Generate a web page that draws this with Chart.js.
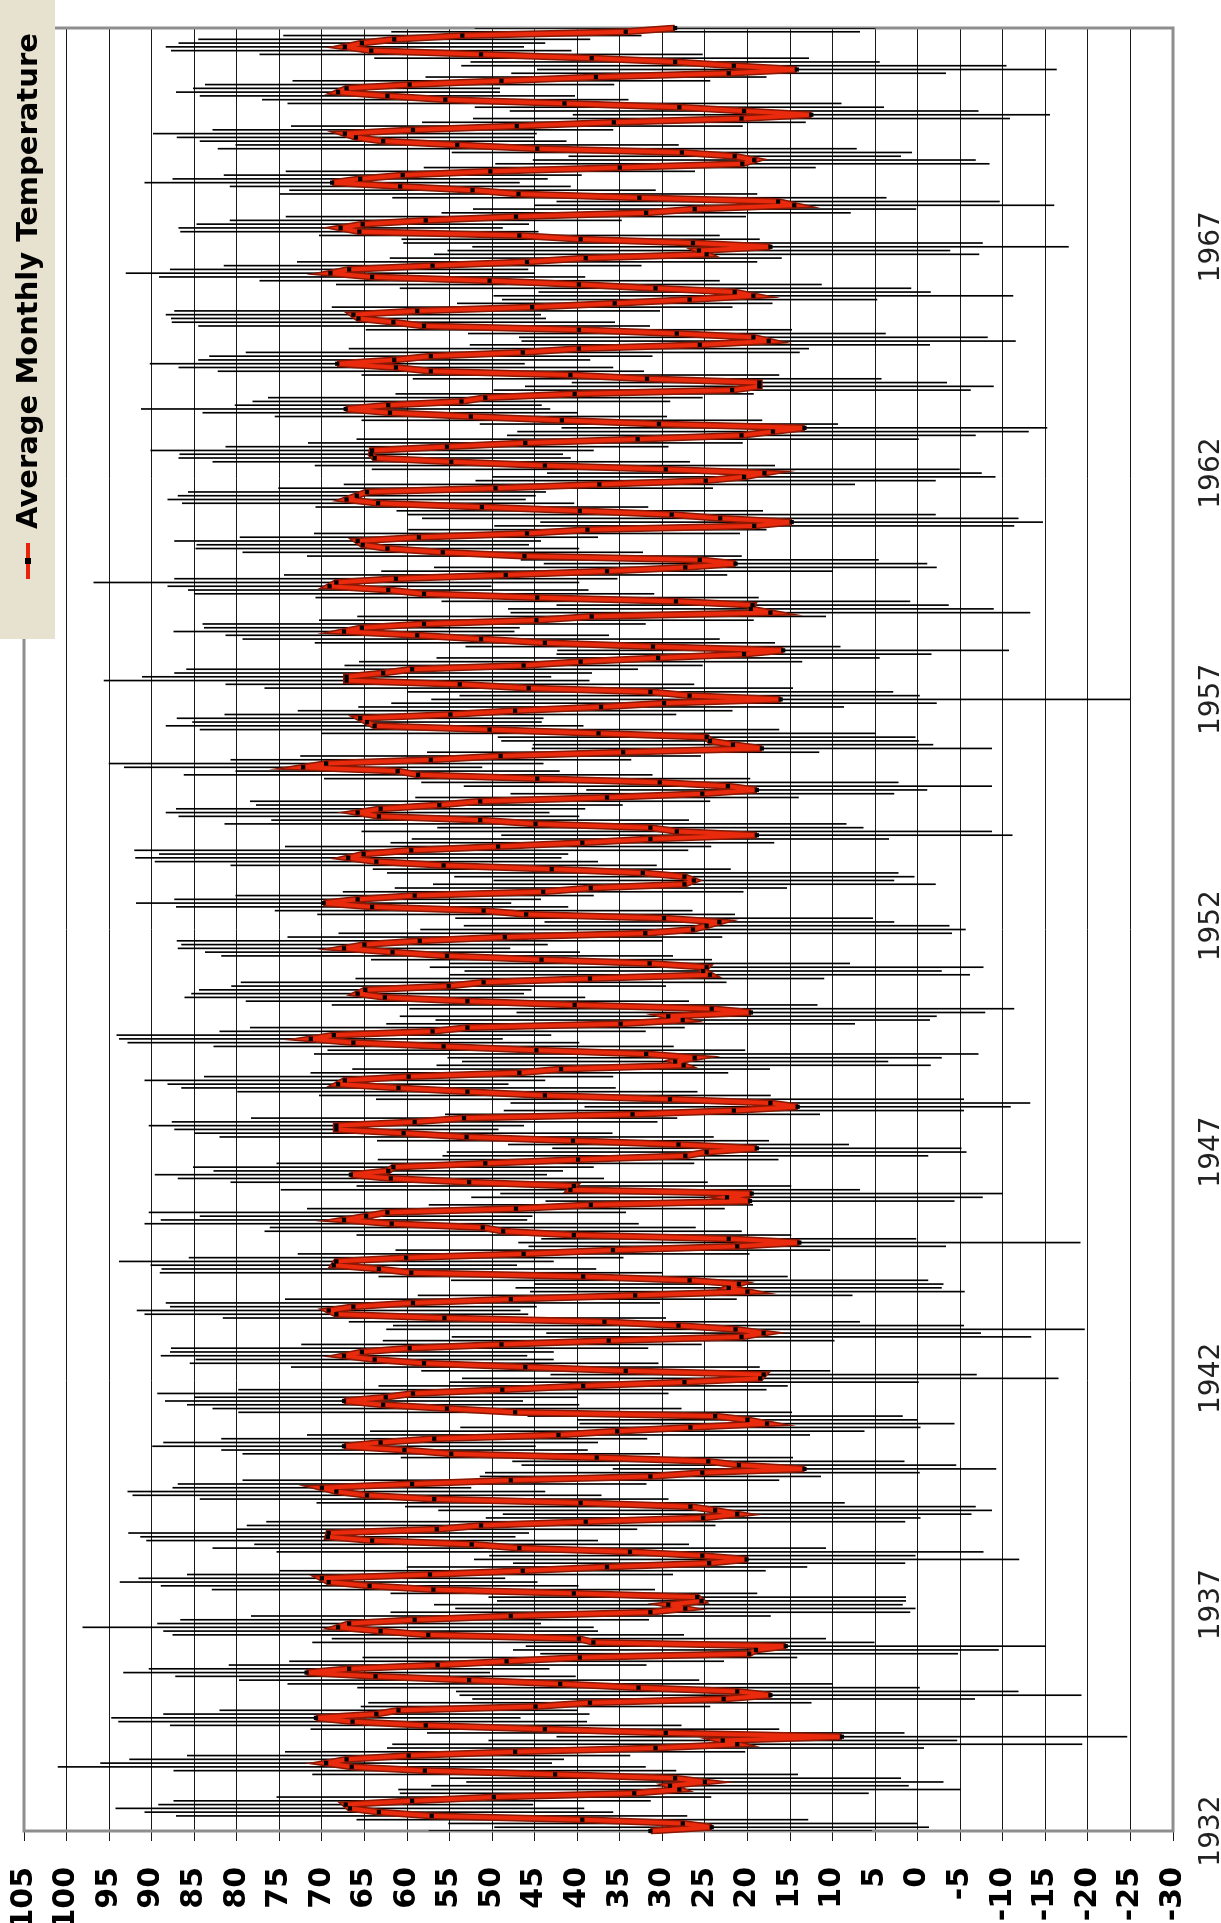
<!DOCTYPE html>
<html>
<head>
<meta charset="utf-8">
<script src="https://cdn.jsdelivr.net/npm/chart.js@4.4.1/dist/chart.umd.min.js"></script>
<style>
html,body{margin:0;padding:0;background:#fff;overflow:hidden;width:1221px;height:1923px;}
#wrap{position:absolute;left:0;top:0;width:1923px;height:1221px;transform-origin:0 0;transform:rotate(-90deg) translateX(-1923px);background:#fff;}
#c{position:absolute;left:0;top:0;}
#legend{position:absolute;left:1284px;top:0;width:639px;height:55px;background:#e6e2cf;font:bold 29px "DejaVu Sans",sans-serif;color:#000;white-space:nowrap;}
#legend .sym{position:absolute;left:60px;top:26px;width:36px;height:4px;background:#e8230a;}
#legend .sym i{position:absolute;left:15px;top:-1px;width:6px;height:6px;background:#000;}
#legend .txt{position:absolute;left:110px;top:10px;line-height:34px;}
</style>
</head>
<body>
<div id="wrap">
  <canvas id="c" width="1923" height="1221" style="width:1923px;height:1221px"></canvas>
  <div id="legend"><span class="sym"><i></i></span><span class="txt">Average Monthly Temperature</span></div>
</div>
<script>
// ---- data (monthly, Jan 1932 .. Nov 1971) ----
const startYear = 1932;
const tickYears = ['1932','1937','1942','1947','1952','1957','1962','1967'];
const seriesName = 'Average Monthly Temperature';
const yMin = -30, yMax = 105, yStep = 5;

const temps = [
  31.4,24.2,27.6,39.4,57.1,63.3,66.7,67.2,59.4,49.8,33.3,28.0, // 1932
  29.1,25.0,28.5,42.6,57.9,66.5,69.5,67.1,59.8,47.3,30.8,21.2, // 1933
  22.9,8.9,29.6,43.8,57.8,66.4,70.7,63.6,61.0,44.9,38.5,22.8,  // 1934
  17.3,21.2,32.8,42.0,52.7,63.7,71.8,66.8,56.4,48.3,39.7,19.8, // 1935
  19.0,15.5,38.1,39.8,57.5,63.1,68.1,66.8,59.1,47.8,31.4,27.3, // 1936
  29.3,25.4,25.9,40.4,56.9,64.4,69.2,70.0,57.3,46.4,36.5,24.5, // 1937
  20.1,25.3,33.8,46.8,52.4,64.1,69.3,69.2,56.5,51.3,39.0,25.2, // 1938
  21.2,23.8,26.7,39.6,56.8,64.7,68.3,70.0,59.4,47.8,31.4,25.3, // 1939
  13.3,21.0,24.6,37.7,54.8,60.3,67.4,63.1,56.8,42.2,35.3,26.7, // 1940
  17.7,20.0,23.8,47.3,55.3,62.8,67.4,62.5,59.3,48.8,39.3,27.4, // 1941
  18.5,18.1,34.3,46.1,58.0,63.8,67.4,65.3,59.7,48.9,36.3,20.7, // 1942
  18.1,21.4,28.1,36.8,55.6,68.3,69.2,66.3,59.3,47.8,33.2,20.0, // 1943
  22.2,21.0,26.8,39.3,59.5,63.3,68.6,68.3,60.1,46.3,35.8,21.2, // 1944
  13.9,22.2,40.4,48.7,51.1,61.8,67.4,64.8,62.3,47.2,38.4,19.7, // 1945
  22.4,19.5,40.8,40.4,52.7,61.9,66.6,62.2,61.6,50.8,39.9,27.3, // 1946
  24.8,18.9,28.1,40.5,53.0,60.4,68.3,68.3,59.1,53.3,33.5,21.6, // 1947
  14.1,17.3,29.1,43.8,52.9,61.0,68.1,67.3,59.8,46.8,41.9,27.5, // 1948
  28.5,26.2,31.9,44.8,55.7,66.3,71.3,68.6,57.0,52.9,34.9,27.6, // 1949
  29.3,19.6,24.2,40.3,52.9,62.6,65.8,64.9,55.1,51.0,38.5,24.4, // 1950
  25.2,24.8,31.5,44.2,55.3,61.7,67.4,65.0,58.5,48.5,32.0,26.4, // 1951
  24.8,23.3,29.8,46.0,51.0,64.1,69.8,65.8,59.1,44.0,38.4,27.4, // 1952
  26.3,27.4,32.3,43.0,55.7,63.6,66.9,65.1,59.5,49.3,39.4,31.4, // 1953
  18.9,28.3,31.4,44.9,51.4,63.3,65.8,63.1,56.2,51.4,36.5,25.3, // 1954
  18.9,22.3,30.3,44.7,58.7,61.1,72.2,69.5,57.2,49.0,34.6,18.3, // 1955
  21.7,24.4,24.8,37.5,50.3,63.8,64.7,65.5,54.9,47.3,37.2,29.8, // 1956
  16.1,26.8,31.4,45.7,53.8,67.1,67.1,62.8,59.4,46.3,39.6,30.5, // 1957
  20.4,15.8,31.1,43.8,51.3,58.8,67.4,65.3,58.0,44.8,38.3,17.3, // 1958
  19.6,19.4,28.4,44.7,58.0,62.2,69.1,68.3,61.3,48.4,36.5,27.3, // 1959
  21.4,25.6,46.2,55.8,62.3,65.2,65.8,58.6,45.9,38.8,19.2,14.8, // 1960
  23.2,28.9,39.7,51.2,63.4,67.1,65.9,64.7,49.6,37.4,24.9,20.4, // 1961
  18.0,29.6,43.8,54.8,63.8,64.2,64.1,55.3,46.1,32.9,20.7,17.0, // 1962
  13.3,30.4,41.8,52.5,62.0,67.2,62.2,53.6,50.8,40.3,21.8,18.6, // 1963
  18.6,31.8,40.8,57.2,61.3,68.2,61.5,57.2,46.4,39.8,25.6,17.5, // 1964
  19.3,28.3,39.8,58.0,61.6,65.7,66.3,58.8,45.3,35.6,26.8,19.3, // 1965
  21.5,30.8,39.8,50.3,64.1,69.0,66.8,57.0,45.9,39.0,24.8,25.7, // 1966
  17.3,26.4,39.6,46.8,65.6,67.8,65.2,57.8,47.2,31.9,26.2,14.5, // 1967
  16.4,32.7,46.9,52.3,60.8,68.8,65.5,60.5,50.2,35.0,20.6,19.2, // 1968
  21.5,27.7,44.7,54.1,62.8,66.0,67.3,59.3,47.1,35.7,20.7,12.5, // 1969
  20.4,28.0,41.5,55.5,62.3,68.1,67.1,59.7,48.9,37.8,22.2,14.2, // 1970
  21.6,28.5,38.3,51.3,64.2,67.3,65.3,61.5,53.5,34.3,28.5       // 1971
];

// half-length of the error bar on each month
const errs = [
  26,25.5,27.5,26.5,30,27.5,27.5,22,28,25.5,27.5,33,
  28,28,26.5,28.5,29.5,34.5,26.5,25.5,26,27,31.5,40.5,
  27.5,33.5,28,27.5,30,27.5,24,25,21,20.5,26,29.5,
  36.5,33,33,32,27,23.5,21.5,23.5,24.5,25.5,25.5,24.5,
  28.5,30.5,33,29,30,25.5,30,22.5,27.5,30.5,30.5,27,
  27.5,24,24.5,21.5,26,24.5,24.5,21.5,28.5,28.5,23.5,23,
  32,25,41.5,36,25.5,26.5,22,23.5,23.5,27.5,37.5,25.5,
  27.5,32.5,33.5,31,27.5,27.5,24.5,17.5,27.5,31.5,20,25.5,
  22.5,25.5,23,23,24.5,21.5,22.5,25.5,25,29.5,29,27,
  22,20,22,32.5,27.5,23,21,22.5,30,31,24,27.5,
  35,25,24,27.5,27.5,21,21.5,22.5,28,23.5,26.5,34,
  25.5,41,33.5,30,26,22.5,22.5,21.5,29,26.5,25.5,25.5,
  25,24,28,24,29.5,25.5,21.5,25.5,25.5,26.5,25.5,24.5,
  33,22,25.5,28,25,29,21.5,19.5,28,24.5,19,24,
  30,29.5,34,25.5,28,25,23,20.5,23.5,24.5,23.5,28.5,
  30.5,24,20,23,29,24.5,19,22,28.5,25,22,27,
  25,30.5,34.5,26.5,27,25.5,20,23.5,24,24.5,24.5,29,
  25,29,39,24.5,27,26.5,22.5,25.5,25,25.5,27.5,29,
  31.5,27.5,35.5,28.5,26,23.5,19.5,19.5,25.5,28.5,27.5,30.5,
  28,32.5,23.5,20,26.5,22,19.5,21.5,28.5,25.5,36,32,
  28.5,20.5,24.5,24.5,24.5,23,22,21.5,21,23.5,23,29.5,
  23.5,27,30,21,25,26,25,24,32.5,25,22.5,28,
  30,37,25,36.5,24.5,23.5,22.5,24,21.5,27,22.5,22.5,
  20,31,28,25,27.5,19,21,25.5,23.5,23.5,23,27,
  23.5,24.5,24.5,32.5,34,24.5,20.5,21.5,26.5,25.5,28.5,32,
  41,27,28.5,31,27.5,28.5,24,24.5,26.5,21,26,26,
  22,26.5,22,27,28,22.5,20,18.5,26,25.5,27.5,30.5,
  28.5,23,27.5,26,27,23.5,19,28.5,26,26,26.5,29.5,
  22.5,21,25.5,23.5,22.5,19.5,21.5,21,25,21,30.5,29.5,
  35,31,21.5,19.5,23,21,21,21,25.5,30,27,29.5,
  25.5,34.5,27,28,23,22.5,26,26,25.5,33,27.5,30,
  28.5,21,23.5,23,22,24,18,24.5,25.5,21,28,27.5,
  22,27.5,24.5,25,25.5,22,23,26,32.5,27,27,29,
  27.5,24.5,25,26.5,26,22,22,28.5,23.5,18.5,22,30.5,
  23,30,28.5,27,25,24,21,24.5,27,23,32,29.5,
  35,34,21,23.5,21,19,19.5,23,27,24,26,30.5,
  26,29,28,21.5,20,22,22,21,24,23,29,26,
  19.5,27,37.5,26,21.5,21,22.5,23.5,26.5,22.5,31.5,28,
  27.5,24,32.5,21.5,22,19,18,24,24.5,20,25.5,30.5,
  32,24,25.5,26,23.5,21,21.5,23,21,27.5,23.5
];

const labels = temps.map((_, i) => String(startYear + Math.floor(i / 12)));
const errRanges = temps.map((v, i) => [v - errs[i], v + errs[i]]);

const framePlugin = {
  id: 'frame',
  beforeDatasetsDraw(chart) {
    const { ctx, chartArea: a } = chart;
    ctx.save();
    ctx.strokeStyle = '#8e8e8e';
    ctx.lineWidth = 3;
    ctx.strokeRect(a.left, a.top, a.right - a.left, a.bottom - a.top);
    ctx.restore();
  }
};

new Chart(document.getElementById('c'), {
  data: {
    labels: labels,
    datasets: [
      { type: 'bar', label: 'range', data: errRanges, backgroundColor: '#000', borderWidth: 0, barThickness: 1, grouped: false, order: 3 },
      { type: 'line', label: 'edge', data: temps, borderColor: '#8a1804', borderWidth: 7, pointRadius: 0, tension: 0, fill: false, order: 2 },
      { type: 'line', label: seriesName, data: temps, borderColor: '#ea2a0c', borderWidth: 4, tension: 0, fill: false,
        pointStyle: 'rect', pointRadius: 3, pointBackgroundColor: '#000', pointBorderColor: '#000', pointBorderWidth: 0, order: 1 }
    ]
  },
  options: {
    responsive: false, animation: false, devicePixelRatio: 1,
    layout: { padding: { left: 0, right: 28, top: 24, bottom: 0 } },
    plugins: { legend: { display: false }, tooltip: { enabled: false } },
    scales: {
      x: {
        type: 'category', offset: false,
        grid: { display: false, drawTicks: false }, border: { display: false },
        ticks: {
          autoSkip: false, maxRotation: 0, minRotation: 0, padding: 22, color: '#222',
          font: { family: 'DejaVu Sans', size: 28 },
          callback: function (val, idx) { const lab = labels[idx]; return (idx % 12 === 0 && tickYears.includes(lab)) ? lab : ''; }
        },
        afterFit(s) { s.height = 48; }
      },
      y: {
        min: yMin, max: yMax,
        grid: { color: '#1a1a1a', lineWidth: 1, tickLength: 10, drawTicks: true }, border: { display: false },
        ticks: { stepSize: yStep, padding: 26, color: '#000', font: { family: 'DejaVu Sans', size: 30, weight: 'bold' } },
        afterFit(s) { s.width = 92; s.paddingTop = 0; s.paddingBottom = 0; }
      }
    }
  },
  plugins: [framePlugin]
});
</script>
</body>
</html>
